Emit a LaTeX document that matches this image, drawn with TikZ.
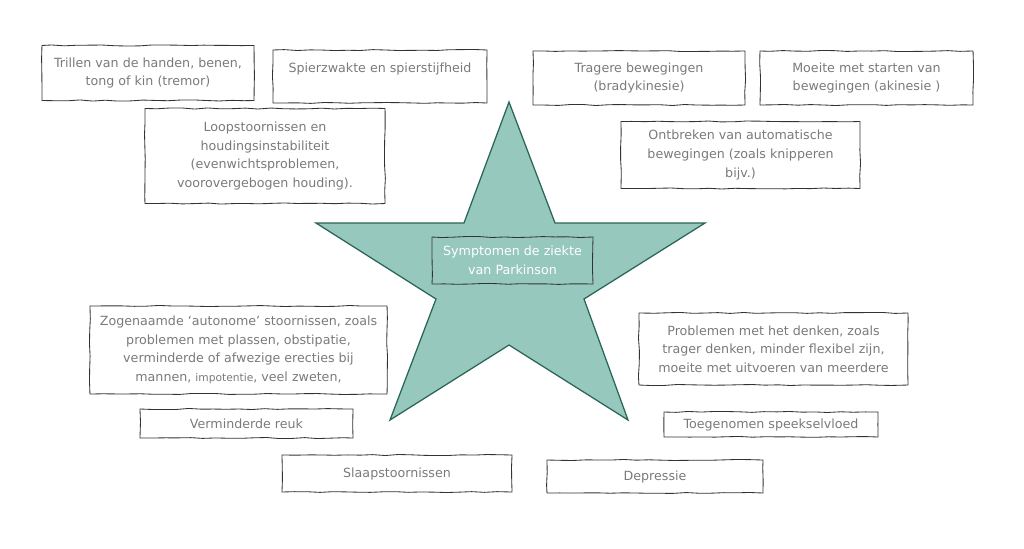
\documentclass[tikz,border=0pt]{standalone}
\usepackage{fontspec}
\setmainfont{DejaVu Sans}
\usetikzlibrary{decorations.pathmorphing}
\definecolor{starfill}{HTML}{97C8BD}
\definecolor{stardraw}{HTML}{2A6658}
\definecolor{boxtext}{HTML}{7A7A7A}
\definecolor{boxline}{HTML}{333333}
\tikzset{
  rough/.style={decorate,decoration={random steps,segment length=9pt,amplitude=0.4pt}},
  symbox/.style={draw=boxline,rough,line width=0.6pt,text=boxtext,align=center,
    font=\fontsize{9}{13.2}\selectfont,inner sep=0pt},
}
\begin{document}
\pgfmathsetseed{7}
\begin{tikzpicture}[x=0.025cm,y=-0.025cm]
  \useasboundingbox (0,0) rectangle (1024,548);

  % ster in het midden
  \draw [fill=starfill,draw=stardraw,line width=0.9pt,line join=miter]
    (509,102) -- (555,223) -- (705,223) -- (584,299) -- (628,420) --
    (509,345) -- (390,420) -- (436,299) -- (316,223) -- (464,223) -- cycle;

  \node (kern) at (512.5,260.5) [symbox,text=white,minimum width=4.025cm,minimum height=1.175cm] {Symptomen de ziekte\\van Parkinson} ;

  % bovenste rij
  \node (tremor) at (148,73) [symbox,minimum width=5.3cm,minimum height=1.375cm] {Trillen van de handen, benen,\\tong of kin (tremor)} ;
  \node (spier) at (380,76.5) [symbox,minimum width=5.35cm,minimum height=1.325cm] {Spierzwakte en spierstijfheid\\\mbox{}} ;
  \node (loop) at (265,156) [symbox,minimum width=6cm,minimum height=2.375cm] {Loopstoornissen en\\houdingsinstabiliteit\\(evenwichtsproblemen,\\voorovergebogen houding).} ;
  \node (brady) at (639,78) [symbox,minimum width=5.3cm,minimum height=1.35cm] {Tragere bewegingen\\(bradykinesie)} ;
  \node (akin) at (866.5,78) [symbox,minimum width=5.325cm,minimum height=1.35cm] {Moeite met starten van\\bewegingen (akinesie )} ;
  \node (auto) at (740.5,155) [symbox,minimum width=5.975cm,minimum height=1.675cm] {Ontbreken van automatische\\bewegingen (zoals knipperen\\bijv.)} ;

  % onderste helft
  \node (autonoom) at (238.5,350) [symbox,minimum width=7.425cm,minimum height=2.2cm] {Zogenaamde `autonome' stoornissen, zoals\\problemen met plassen, obstipatie,\\verminderde of afwezige erecties bij\\mannen, {\fontsize{7.6}{13.2}\selectfont impotentie}, veel zweten,} ;
  \node (reuk) at (246.5,423.5) [symbox,minimum width=5.325cm,minimum height=0.725cm] {Verminderde reuk} ;
  \node (denken) at (773.5,349) [symbox,minimum width=6.725cm,minimum height=1.8cm] {Problemen met het denken, zoals\\trager denken, minder flexibel zijn,\\moeite met uitvoeren van meerdere} ;
  \node (speeksel) at (771,424.5) [symbox,minimum width=5.35cm,minimum height=0.625cm] {Toegenomen speekselvloed} ;
  \node (slaap) at (397,473.5) [symbox,minimum width=5.75cm,minimum height=0.925cm] {Slaapstoornissen} ;
  \node (depressie) at (655,476.5) [symbox,minimum width=5.4cm,minimum height=0.825cm] {Depressie} ;
\end{tikzpicture}
\end{document}
